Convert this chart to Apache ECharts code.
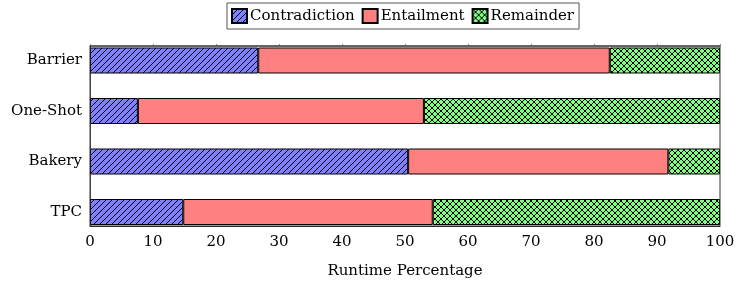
<!DOCTYPE html>
<html>
<head>
<meta charset="utf-8">
<script src="https://cdn.jsdelivr.net/npm/echarts@6/dist/echarts.min.js"></script>
<style>
  html, body { margin: 0; padding: 0; background: #fff; }
</style>
</head>
<body>
<div id="chart" style="width:744px;height:284px"></div>
<script>
// data
const categories = ['Barrier', 'One-Shot', 'Bakery', 'TPC'];
const contradiction = [26.7, 7.6, 50.5, 14.8];
const entailment = [55.8, 45.4, 41.3, 39.6];
const remainder = [17.5, 47.0, 8.2, 45.6];
const xTicks = [0, 10, 20, 30, 40, 50, 60, 70, 80, 90, 100];

const FONT = 'DejaVu Serif';
const FS = 15;

// hatch patterns like pgfplots
function makePattern(bg, kind) {
  const s = 6;
  const c = document.createElement('canvas');
  c.width = s; c.height = s;
  const g = c.getContext('2d');
  g.fillStyle = bg;
  g.fillRect(0, 0, s, s);
  g.strokeStyle = '#000';
  g.lineWidth = 1;
  const line = (x1, y1, x2, y2) => { g.beginPath(); g.moveTo(x1, y1); g.lineTo(x2, y2); g.stroke(); };
  // north east lines
  line(-1, s + 1, s + 1, -1);
  line(-1, 1, 1, -1);
  line(s - 1, s + 1, s + 1, s - 1);
  if (kind === 'cross') {
    line(-1, -1, s + 1, s + 1);
    line(s - 1, -1, s + 1, 1);
    line(-1, s - 1, 1, s + 1);
  }
  return { image: c, repeat: 'repeat' };
}

const chart = echarts.init(document.getElementById('chart'));

const option = {
  animation: false,
  textStyle: { fontFamily: FONT, color: '#000' },
  legend: {
    left: 227,
    top: 3,
    padding: [5, 5, 5, 4],
    icon: 'rect',
    itemWidth: 15,
    itemHeight: 14,
    itemGap: 7,
    borderColor: '#555',
    borderWidth: 1,
    textStyle: { fontFamily: FONT, fontSize: FS, color: '#000', padding: [0, 0, 0, -2] },
    data: ['Contradiction', 'Entailment', 'Remainder']
  },
  grid: [
    // bars
    { left: 90, width: 630, top: 60.5, height: 151.5 },
    // frame + x axis
    { left: 90, width: 630, top: 46, height: 180, show: true, borderColor: '#333', borderWidth: 1, z: 5 }
  ],
  xAxis: [
    { gridIndex: 0, type: 'value', min: 0, max: 100, show: false },
    {
      gridIndex: 1, type: 'value', min: 0, max: 100, interval: 10,
      name: 'Runtime Percentage', nameLocation: 'middle', nameGap: 38,
      nameTextStyle: { fontFamily: FONT, fontSize: FS, color: '#000' },
      axisLine: { show: true, lineStyle: { color: '#222' } },
      axisTick: { show: false },
      splitLine: { show: false },
      axisLabel: { fontFamily: FONT, fontSize: FS, color: '#000', margin: 9,
        formatter: v => xTicks.includes(v) ? String(v) : '' }
    },
    {
      // mirrored ticks on the top border
      gridIndex: 1, type: 'value', min: 0, max: 100, interval: 10, position: 'top',
      axisLine: { show: true, lineStyle: { color: '#777', width: 1.5 } },
      axisTick: { show: true, inside: false, length: 2, lineStyle: { color: '#888' } },
      axisLabel: { show: false }, splitLine: { show: false }
    }
  ],
  yAxis: [
    {
      gridIndex: 0, type: 'category', data: categories, inverse: true, boundaryGap: false,
      axisLine: { show: false }, axisTick: { show: false }, splitLine: { show: false },
      axisLabel: { fontFamily: FONT, fontSize: FS, color: '#000', margin: 8 }
    },
    {
      gridIndex: 1, type: 'value', min: 0, max: 1,
      axisLine: { show: true, lineStyle: { color: '#555' } },
      axisTick: { show: false }, axisLabel: { show: false }, splitLine: { show: false }
    }
  ],
  series: [
    { name: 'Contradiction', data: contradiction, color: makePattern('#8080ff', 'ne') },
    { name: 'Entailment', data: entailment, color: '#ff8080' },
    { name: 'Remainder', data: remainder, color: makePattern('#80ff80', 'cross') }
  ].map(s => ({
    name: s.name,
    type: 'bar',
    stack: 'total',
    xAxisIndex: 0,
    yAxisIndex: 0,
    barWidth: 26,
    data: s.data,
    itemStyle: { color: s.color, borderColor: '#000', borderWidth: 1 }
  }))
};

chart.setOption(option);
</script>
</body>
</html>
